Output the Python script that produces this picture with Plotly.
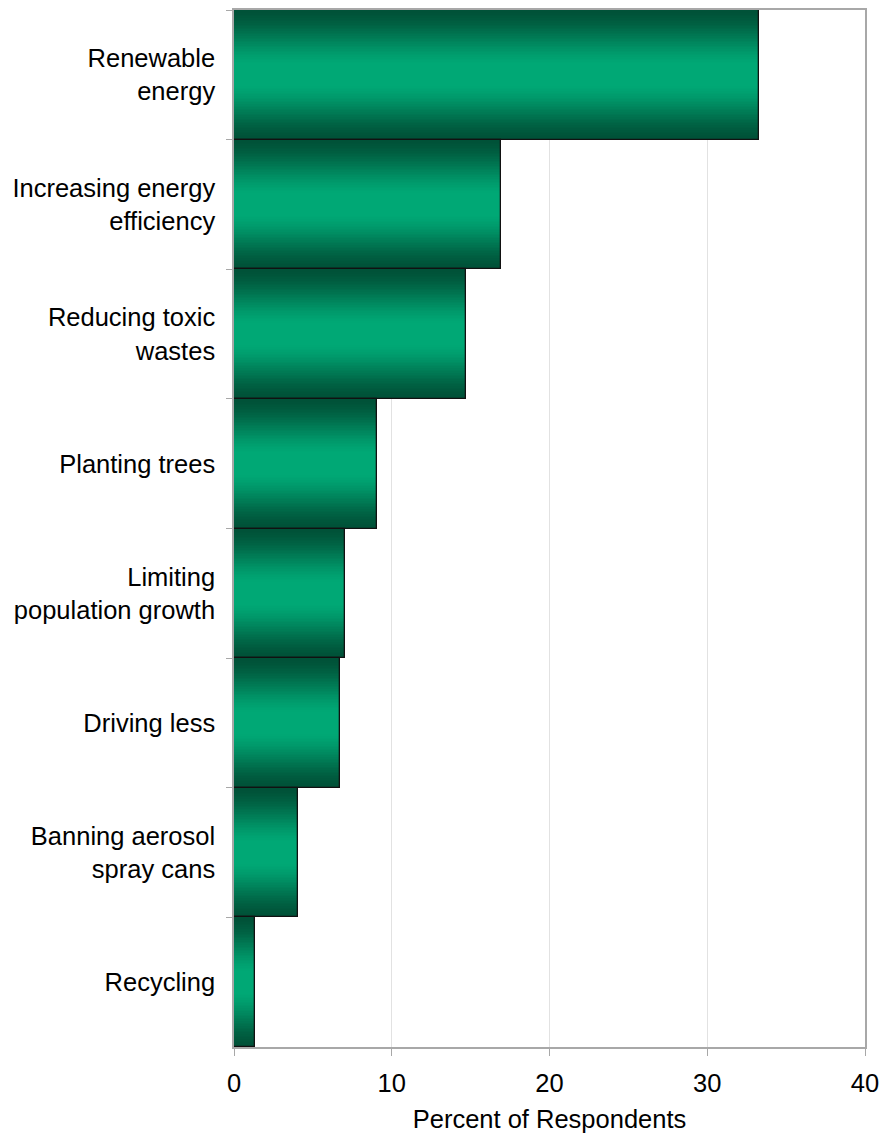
import plotly.graph_objects as go

# Survey data: most effective ways to address environmental problems
categories = [
    "Renewable<br>energy",
    "Increasing energy<br>efficiency",
    "Reducing toxic<br>wastes",
    "Planting trees",
    "Limiting<br>population growth",
    "Driving less",
    "Banning aerosol<br>spray cans",
    "Recycling",
]
percent = [33.3, 16.9, 14.7, 9.05, 7.05, 6.75, 4.05, 1.3]

x_ticks = [0, 10, 20, 30, 40]

DARK = (0, 82, 56)
BRIGHT = (0, 168, 117)


def shade(t):
    """Colour for normalised distance t from the bar centre (0 centre, 1 edge)."""
    lo, hi = 0.18, 0.97
    s = min(max((t - lo) / (hi - lo), 0.0), 1.0)
    s = 0.5 * (s * s * (3 - 2 * s)) + 0.5 * s
    r, g, b = (round(BRIGHT[i] + (DARK[i] - BRIGHT[i]) * s) for i in range(3))
    return f"rgb({r},{g},{b})"


fig = go.Figure()

# Vertical gradient: stack progressively narrower, lighter bars
layers = 40
for k in range(layers):
    w = 1.0 - k / layers
    fig.add_trace(go.Bar(
        x=percent, y=categories, orientation="h",
        width=w,
        marker=dict(color=shade(w), line=dict(width=0)),
        hoverinfo="skip", showlegend=False,
    ))

# Outline on top
fig.add_trace(go.Bar(
    x=percent, y=categories, orientation="h",
    width=1.0,
    marker=dict(color="rgba(0,0,0,0)", line=dict(color="#111111", width=1.3)),
    showlegend=False,
))

font = "Liberation Sans, Arial, sans-serif"
fs = 25.5

fig.update_layout(
    width=881, height=1139,
    margin=dict(l=234, r=16, t=10, b=92),
    barmode="overlay",
    bargap=0,
    paper_bgcolor="white",
    plot_bgcolor="white",
    font=dict(family=font, size=fs, color="black"),
)

fig.update_xaxes(
    range=[0, 40],
    tickvals=x_ticks,
    ticks="outside", ticklen=7, tickcolor="#a8a8a8", tickwidth=1,
    showgrid=True, gridcolor="#e2e2e2", gridwidth=1,
    showline=True, linecolor="#a8a8a8", linewidth=1.5, mirror=True,
    zeroline=False,
    tickfont=dict(size=fs),
    ticklabelstandoff=6,
    title=dict(text="Percent of Respondents", font=dict(size=fs), standoff=14),
    automargin=False,
)

fig.update_yaxes(
    categoryorder="array", categoryarray=categories,
    autorange="reversed",
    tickson="boundaries",
    ticks="outside", ticklen=6, tickcolor="#a8a8a8", tickwidth=1,
    showgrid=False,
    showline=True, linecolor="#a8a8a8", linewidth=1.5, mirror=True,
    tickfont=dict(size=fs),
    ticklabelstandoff=12,
    automargin=False,
)

fig.write_html("out.html")
